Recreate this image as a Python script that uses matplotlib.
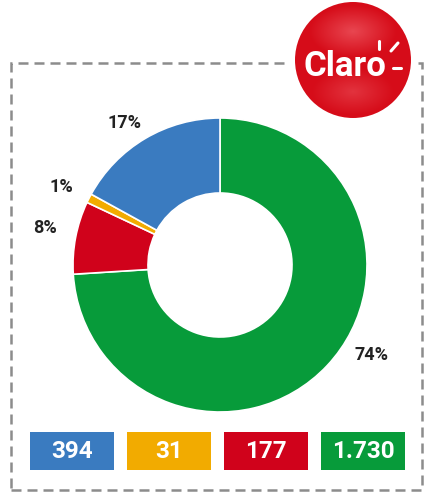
import numpy as np
import matplotlib.pyplot as plt
from matplotlib.patches import Rectangle, Circle

# data
shares = [74, 8, 1, 17]          # green, red, yellow, blue (clockwise from top)
share_labels = ['74%', '8%', '1%', '17%']
colors = ['#079b3a', '#d0021b', '#f2ab00', '#3a7bc0']
box_values = ['394', '31', '177', '1.730']
box_colors = ['#3a7bc0', '#f2ab00', '#d0021b', '#079b3a']

W, H = 427, 495

def Y(y):
    # pixel row -> data y
    return H - y

fig = plt.figure(figsize=(W / 100, H / 100), dpi=100)
ax = fig.add_axes([0, 0, 1, 1])

# donut
ax.pie(shares, colors=colors, startangle=90, counterclock=False,
       center=(220, Y(265)), radius=147,
       wedgeprops=dict(width=75, edgecolor='white', linewidth=1.2))

# percent labels
label_pos = [(372, 355), (45, 228), (61, 187), (125, 123)]
for (x, y), txt in zip(label_pos, share_labels):
    ax.text(x, Y(y), txt, ha='center', va='center', fontsize=13,
            fontweight='bold', family='Roboto', color='#222222')

# dashed frame
ax.add_patch(Rectangle((11, Y(490)), 411, 427, fill=False, edgecolor='#8c8c8c',
                       linewidth=1.8, linestyle=(0, (4, 2.4)), zorder=1))

# value boxes
box_x = [30, 127, 224, 321]
for x, val, c in zip(box_x, box_values, box_colors):
    ax.add_patch(Rectangle((x, Y(470)), 84, 38, facecolor=c, edgecolor='none', zorder=2))
    ax.text(x + 42, Y(451), val, ha='center', va='center', fontsize=17.5,
            fontweight='bold', family='Roboto', color='white', zorder=3)

# Claro logo (glossy red ball)
cx, cy, r = 353, Y(60), 58
ax.add_patch(Circle((cx, cy), r + 6, facecolor='white', edgecolor='none', zorder=4))
ball = Circle((cx, cy), r, facecolor='none', edgecolor='none', zorder=5)
ax.add_patch(ball)
gx, gy = np.meshgrid(np.linspace(-1, 1, 120), np.linspace(-1, 1, 120))
d_top = np.hypot(gx / 0.75, (gy - 0.5) / 0.45)
d_bot = np.hypot(gx / 0.7, (gy + 0.55) / 0.4)
light = 0.45 * np.clip(1 - d_top, 0, 1) + 0.3 * np.clip(1 - d_bot, 0, 1)
base = np.array([0.84, 0.05, 0.10])
hi = np.array([1.0, 0.55, 0.58])
img = base + light[..., None] * (hi - base)
im = ax.imshow(img, extent=(cx - r, cx + r, cy - r, cy + r), origin='lower',
               interpolation='bilinear', zorder=5)
im.set_clip_path(ball)
ax.text(345, Y(67), 'Claro', ha='center', va='center', fontsize=25,
        fontweight='bold', family='Roboto', color='white', zorder=6)
ax.plot([379, 379], [Y(41), Y(49)], color='white', lw=2.2, solid_capstyle='round', zorder=6)
ax.plot([391, 398], [Y(51), Y(43)], color='white', lw=2.2, solid_capstyle='round', zorder=6)
ax.plot([393, 401], [Y(68), Y(68)], color='white', lw=2.2, solid_capstyle='round', zorder=6)

ax.set_xlim(0, W)
ax.set_ylim(0, H)
ax.set_aspect('auto')
ax.axis('off')

fig.savefig('out.png', dpi=100, facecolor='white')
